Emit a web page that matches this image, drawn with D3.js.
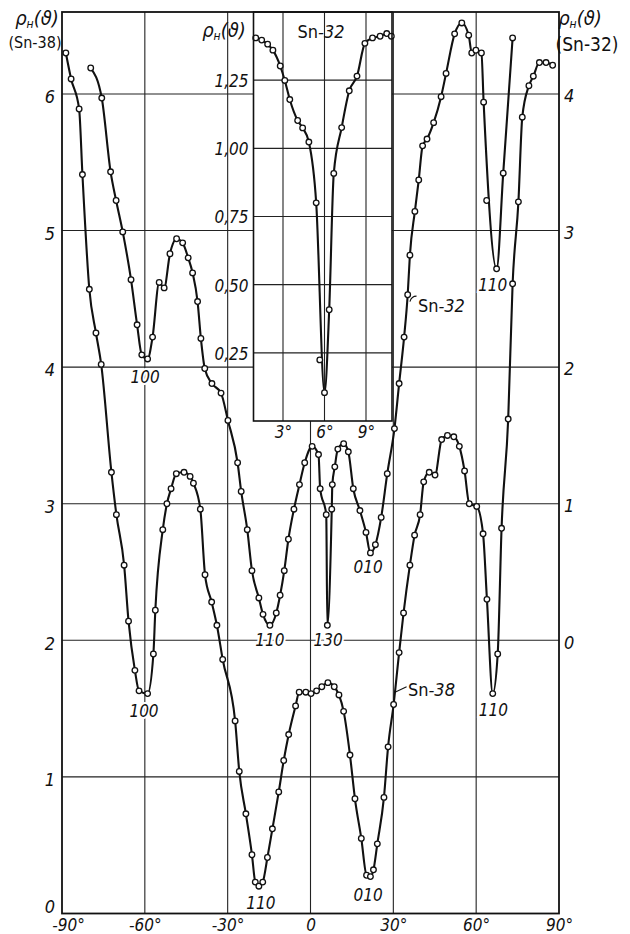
<!DOCTYPE html>
<html>
<head>
<meta charset="utf-8">
<script src="https://cdn.jsdelivr.net/npm/d3@7"></script>
<style>
  body { margin: 0; background: #fff; }
  svg { display: block; }
  text { font-family: "DejaVu Sans Condensed", "Liberation Sans Narrow", sans-serif; fill: #111; }
  .it { font-style: italic; }
</style>
</head>
<body>
<div id="chart"></div>
<script>
// Sn-38, left axis
const sn38Deg = [-88.6, -86.7, -83.8, -82.6, -80.1, -77.7, -75.8, -72.1, -70.3, -67.5,
  -65.9, -63.6, -62.1, -59.0, -56.9, -56.2, -53.5, -52.0, -50.5, -48.6,
  -45.8, -43.6, -42.4, -39.9, -38.2, -35.8, -33.9, -31.8, -27.3, -25.8,
  -23.4, -21.2, -20.0, -18.7, -17.3, -15.6, -13.8, -11.5, -9.7, -7.9,
  -5.4, -4.1, -1.7, 0.2, 2.2, 4.1, 6.3, 8.6, 10.3, 12.0,
  14.3, 16.1, 18.4, 20.3, 21.7, 22.8, 24.2, 26.6, 28.1, 30.1,
  32.1, 33.7, 36.0, 37.7, 39.7, 41.0, 43.0, 45.1, 47.5, 49.6,
  51.9, 53.9, 55.8, 57.5, 60.2, 62.5, 63.9, 66.0, 67.8, 69.2,
  71.6, 73.2, 75.3, 76.7, 79.1, 80.7, 82.9, 85.3, 87.7]
const sn38Val = [6.30, 6.11, 5.89, 5.41, 4.57, 4.25, 4.02, 3.23, 2.92, 2.55,
  2.14, 1.78, 1.63, 1.61, 1.90, 2.22, 2.81, 3.00, 3.11, 3.22,
  3.23, 3.20, 3.15, 2.96, 2.48, 2.28, 2.11, 1.86, 1.41, 1.04,
  0.73, 0.43, 0.23, 0.20, 0.23, 0.41, 0.62, 0.89, 1.12, 1.31,
  1.52, 1.62, 1.62, 1.61, 1.63, 1.66, 1.69, 1.66, 1.60, 1.48,
  1.16, 0.84, 0.55, 0.28, 0.27, 0.32, 0.51, 0.85, 1.22, 1.53,
  1.91, 2.20, 2.55, 2.77, 2.92, 3.16, 3.23, 3.21, 3.47, 3.50,
  3.49, 3.42, 3.24, 3.00, 2.98, 2.78, 2.30, 1.61, 1.90, 2.82,
  3.62, 4.61, 5.21, 5.83, 6.06, 6.13, 6.23, 6.23, 6.21]

// Sn-32, right axis
const sn32Deg = [-79.6, -75.6, -72.4, -70.4, -68.0, -65.0, -62.8, -61.1, -59.0, -57.2,
  -54.8, -53.0, -50.9, -48.5, -46.3, -44.3, -42.7, -40.9, -39.7, -38.3,
  -35.7, -32.4, -29.9, -26.4, -25.1, -22.9, -21.2, -18.7, -17.2, -14.7,
  -12.4, -11.0, -9.5, -8.0, -6.0, -4.0, -2.1, 0.6, 2.9, 3.5,
  5.7, 6.1, 7.7, 7.9, 8.8, 9.9, 12.0, 13.7, 15.5, 17.9,
  20.1, 21.7, 23.5, 25.6, 27.8, 30.4, 32.1, 33.9, 35.2, 36.0,
  37.8, 39.2, 40.6, 42.2, 44.6, 47.3, 49.1, 52.2, 54.8, 57.3,
  58.4, 59.9, 61.9, 62.7, 67.4, 69.8, 73.2]
const sn32Val = [4.19, 3.97, 3.43, 3.22, 2.99, 2.64, 2.31, 2.09, 2.06, 2.22,
  2.62, 2.58, 2.83, 2.94, 2.91, 2.80, 2.69, 2.48, 2.21, 1.99,
  1.88, 1.81, 1.61, 1.30, 1.09, 0.81, 0.51, 0.31, 0.19, 0.11,
  0.20, 0.33, 0.51, 0.74, 0.96, 1.14, 1.30, 1.42, 1.36, 1.11,
  0.92, 0.11, 0.96, 1.14, 1.27, 1.40, 1.44, 1.38, 1.11, 0.95,
  0.79, 0.64, 0.70, 0.90, 1.22, 1.55, 1.88, 2.22, 2.53, 2.82,
  3.14, 3.37, 3.62, 3.67, 3.79, 3.98, 4.15, 4.44, 4.52, 4.43,
  4.30, 4.32, 4.30, 3.94, 2.72, 3.42, 4.41]
const sn32StrayDeg = [63.8]
const sn32StrayVal = [3.22]

// inset, Sn-32 near 6 deg
const insetDeg = [1.03, 1.46, 1.89, 2.27, 2.80, 3.13, 3.49, 4.06, 4.42, 4.87,
  5.40, 6.00, 6.34, 6.67, 7.24, 7.79, 8.35, 8.92, 9.47, 10.02, 10.50, 10.83]
const insetVal = [1.405, 1.397, 1.382, 1.360, 1.302, 1.249, 1.179, 1.102, 1.075, 1.023,
  0.800, 0.104, 0.408, 0.908, 1.076, 1.211, 1.265, 1.385, 1.405, 1.411, 1.421, 1.411]
const insetStrayDeg = [5.66]
const insetStrayVal = [0.224]

const leftTicks = [0, 1, 2, 3, 4, 5, 6]
const rightTicks = [0, 1, 2, 3, 4]
const xTicks = [-90, -60, -30, 0, 30, 60, 90]
const xGrid = [-60, -30, 0, 30, 60]
const insetXTicks = [3, 6, 9]
const insetYTicks = [0.25, 0.50, 0.75, 1.00, 1.25]

// orientation labels (deg, value on left axis)
const orientText = ["100", "100", "110", "130", "110", "010", "010", "110", "110"]
const orientDeg = [-59.9, -60.3, -14.7, 6.4, -18.0, 20.9, 20.9, 66.2, 66.0]
const orientVal = [3.93, 1.48, 2.0, 2.0, 0.08, 0.135, 2.54, 1.49, 4.60]

const width = 630
const height = 934

const svg = d3.select('#chart')
    .append('svg')
    .attr('width', width)
    .attr('height', height)

const x = d3.scaleLinear().domain([-90, 90]).range([62, 559])
const yL = d3.scaleLinear().domain([0, 6.6]).range([913.5, 12])
const yR = d3.scaleLinear().domain([-2, 4.6]).range([913.5, 12])

const xi = d3.scaleLinear().domain([3, 9]).range([283, 366])
const yi = d3.scaleLinear().domain([0, 1.5]).range([421, 12])
const inL = 253.5, inR = 392

// grid
const grid = svg.append('g').attr('stroke', '#222').attr('stroke-width', 1.1)
grid.selectAll('.vg').data(xGrid).join('line')
    .attr('x1', d => x(d)).attr('x2', d => x(d))
    .attr('y1', yL(6.6)).attr('y2', yL(0))
grid.selectAll('.hg').data(leftTicks.filter(d => d > 0)).join('line')
    .attr('x1', x(-90)).attr('x2', x(90))
    .attr('y1', d => yL(d)).attr('y2', d => yL(d))

const line38 = d3.line().x((d, i) => x(sn38Deg[i])).y(d => yL(d)).curve(d3.curveMonotoneX)
const line32 = d3.line().x((d, i) => x(sn32Deg[i])).y(d => yR(d)).curve(d3.curveMonotoneX)

svg.append('path').attr('d', line38(sn38Val))
    .attr('fill', 'none').attr('stroke', '#111').attr('stroke-width', 2.1)
svg.append('path').attr('d', line32(sn32Val))
    .attr('fill', 'none').attr('stroke', '#111').attr('stroke-width', 2.1)

// orientation labels (under the dots, with a white halo to break grid lines)
svg.append('g').selectAll('text').data(orientText).join('text')
    .attr('class', 'it')
    .attr('x', (d, i) => x(orientDeg[i]))
    .attr('y', (d, i) => yL(orientVal[i]))
    .attr('dy', '0.35em')
    .attr('text-anchor', 'middle')
    .attr('font-size', 17)
    .attr('stroke', '#fff').attr('stroke-width', 4)
    .attr('paint-order', 'stroke')
    .text(d => d)

function dots(g, xs, ys, sx, sy) {
    g.selectAll(null).data(ys).join('circle')
        .attr('cx', (d, i) => sx(xs[i]))
        .attr('cy', d => sy(d))
        .attr('r', 2.8)
        .attr('fill', '#fff')
        .attr('stroke', '#111')
        .attr('stroke-width', 1.3)
}
dots(svg.append('g'), sn38Deg, sn38Val, x, yL)
dots(svg.append('g'), sn32Deg, sn32Val, x, yR)
dots(svg.append('g'), sn32StrayDeg, sn32StrayVal, x, yR)

// curve name labels with leaders
svg.append('path')
    .attr('d', `M${x(30.6)},${yL(1.62)} L${x(34.8)},${yL(1.66)}`)
    .attr('stroke', '#111').attr('stroke-width', 1.1).attr('fill', 'none')
const t38 = svg.append('text').attr('x', x(35.3)).attr('y', yL(1.64)).attr('dy', '0.35em').attr('font-size', 18)
t38.append('tspan').text('Sn')
t38.append('tspan').attr('class', 'it').text('-38')

svg.append('path')
    .attr('d', `M${x(36.0)},${yR(2.48)} Q${x(36.6)},${yR(2.52)} ${x(38.4)},${yR(2.52)}`)
    .attr('stroke', '#111').attr('stroke-width', 1.1).attr('fill', 'none')
const t32 = svg.append('text').attr('x', x(38.9)).attr('y', yR(2.45)).attr('dy', '0.35em').attr('font-size', 18)
t32.append('tspan').text('Sn')
t32.append('tspan').attr('class', 'it').text('-32')

// main axes
const xAxis = svg.append('g').attr('transform', `translate(0,${yL(0)})`)
    .call(d3.axisBottom(x).tickValues(xTicks).tickSize(0).tickPadding(5)
        .tickFormat(d => d === 0 ? '0' : d + '°'))
xAxis.select('.domain').remove()
xAxis.selectAll('text').attr('class', 'it').attr('font-size', 17)
    .attr('x', d => d === -90 ? 6 : 0)

const lAxis = svg.append('g').attr('transform', `translate(${x(-90)},0)`)
    .call(d3.axisLeft(yL).tickValues(leftTicks).tickSize(0).tickPadding(7)
        .tickFormat(d3.format('d')))
lAxis.select('.domain').remove()
lAxis.selectAll('text').attr('class', 'it').attr('font-size', 18)
    .attr('y', d => d === 0 ? -7 : 3)

const rAxis = svg.append('g').attr('transform', `translate(${x(90)},0)`)
    .call(d3.axisRight(yR).tickValues(rightTicks).tickSize(0).tickPadding(5)
        .tickFormat(d3.format('d')))
rAxis.select('.domain').remove()
rAxis.selectAll('text').attr('class', 'it').attr('font-size', 18).attr('y', 2)

// inset
const inset = svg.append('g')
inset.append('rect')
    .attr('x', inL).attr('y', yi(1.5))
    .attr('width', inR - inL).attr('height', yi(0) - yi(1.5))
    .attr('fill', '#fff')
inset.append('g').attr('stroke', '#222').attr('stroke-width', 1.1)
    .selectAll('line').data(insetXTicks).join('line')
    .attr('x1', d => xi(d)).attr('x2', d => xi(d))
    .attr('y1', yi(1.5)).attr('y2', yi(0))
inset.append('g').attr('stroke', '#222').attr('stroke-width', 1.1)
    .selectAll('line').data(insetYTicks).join('line')
    .attr('x1', inL).attr('x2', inR)
    .attr('y1', d => yi(d)).attr('y2', d => yi(d))

const lineIn = d3.line().x((d, i) => xi(insetDeg[i])).y(d => yi(d)).curve(d3.curveMonotoneX)
inset.append('path').attr('d', lineIn(insetVal))
    .attr('fill', 'none').attr('stroke', '#111').attr('stroke-width', 2.1)
dots(inset.append('g'), insetDeg, insetVal, xi, yi)
dots(inset.append('g'), insetStrayDeg, insetStrayVal, xi, yi)

inset.append('rect')
    .attr('x', inL).attr('y', yi(1.5))
    .attr('width', inR - inL).attr('height', yi(0) - yi(1.5))
    .attr('fill', 'none').attr('stroke', '#111').attr('stroke-width', 1.6)

const ixAxis = inset.append('g').attr('transform', `translate(0,${yi(0)})`)
    .call(d3.axisBottom(xi).tickValues(insetXTicks).tickSize(0).tickPadding(5)
        .tickFormat(d => d + '°'))
ixAxis.select('.domain').remove()
ixAxis.selectAll('text').attr('class', 'it').attr('font-size', 17)

const iyAxis = inset.append('g').attr('transform', `translate(${inL},0)`)
    .call(d3.axisLeft(yi).tickValues(insetYTicks).tickSize(0).tickPadding(5)
        .tickFormat(d => d3.format('.2f')(d).replace('.', ',')))
iyAxis.select('.domain').remove()
iyAxis.selectAll('text').attr('class', 'it').attr('font-size', 17).attr('y', 1)

const tIn = inset.append('text').attr('x', 321).attr('y', 38).attr('text-anchor', 'middle').attr('font-size', 18)
tIn.append('tspan').text('Sn')
tIn.append('tspan').attr('class', 'it').text('-32')

// frame
svg.append('rect')
    .attr('x', x(-90)).attr('y', yL(6.6))
    .attr('width', x(90) - x(-90)).attr('height', yL(0) - yL(6.6))
    .attr('fill', 'none').attr('stroke', '#111').attr('stroke-width', 1.8)

// axis titles
function rhoTitle(cx, by, size) {
    const t = svg.append('text').attr('x', cx).attr('y', by)
        .attr('text-anchor', 'middle').attr('font-size', size).attr('class', 'it')
    t.append('tspan').text('ρ')
    t.append('tspan').attr('font-size', size * 0.6).attr('dy', 3).text('н')
    t.append('tspan').attr('dy', -3).text('(ϑ)')
}
rhoTitle(37, 25, 20)
rhoTitle(224, 37, 20)
rhoTitle(580, 25, 20)

svg.append('text').attr('x', 35).attr('y', 48).attr('text-anchor', 'middle')
    .attr('font-size', 16).text('(Sn-38)')
svg.append('text').attr('x', 587).attr('y', 51).attr('text-anchor', 'middle')
    .attr('font-size', 19).text('(Sn-32)')
</script>
</body>
</html>
